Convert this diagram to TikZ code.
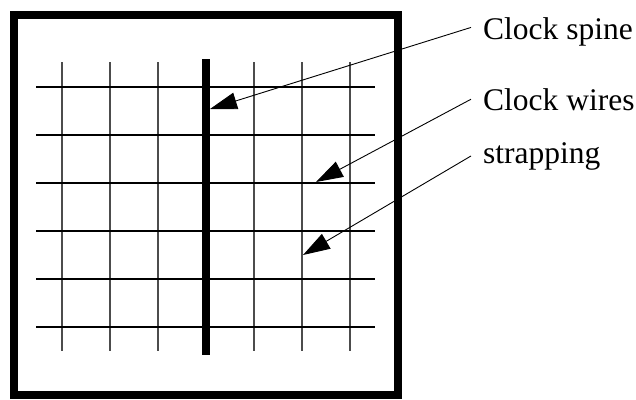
\documentclass[tikz,border=0pt]{standalone}
\usepackage{fontspec}
\setmainfont{Liberation Serif}
\usetikzlibrary{arrows.meta}

\begin{document}
\begin{tikzpicture}[x=1pt, y=-1pt, >={Triangle[length=27pt, width=17pt]},
    wire/.style={line width=2.4pt, black},
    strap/.style={line width=1.6pt, black!70},
    lbl/.style={anchor=base west, inner ysep=0pt, inner xsep=12pt,
                font=\fontsize{31.5}{36}\selectfont},
    leader/.style={->, line width=0.9pt}]

    % Define variables/coordinates
    \def\Pitch{48}
    \def\SpineX{206}

    \useasboundingbox (0,0) rectangle (636,399);

    % Outer block
    \draw[line width=8pt] (14,15) rectangle (398,395);

    % Strapping (thin vertical lines)
    \foreach \i in {0,1,2,4,5,6}
        \draw[strap] ({62+\Pitch*\i},62) -- ({62+\Pitch*\i},351);

    % Clock wires (horizontal lines)
    \foreach \j in {0,...,5}
        \draw[wire] (36,{87+\Pitch*\j}) -- (375,{87+\Pitch*\j});

    % Clock spine
    \draw[line width=8pt] (\SpineX,59) -- (\SpineX,355);

    % Labels
    \node[lbl] (spineLbl) at (471,39) {Clock spine};
    \node[lbl] (wiresLbl) at (471,110) {Clock wires};
    \node[lbl] (strapLbl) at (471,163) {strapping};

    % Arrow tips
    \coordinate (spineTip) at (210,109);
    \coordinate (wiresTip) at (316,182);
    \coordinate (strapTip) at (303,255);

    % Leaders
    \draw[leader] ([yshift=4pt]spineLbl.west) -- (spineTip);
    \draw[leader] (wiresLbl.west) -- (wiresTip);
    \draw[leader] (strapLbl.west) -- (strapTip);

\end{tikzpicture}
\end{document}
